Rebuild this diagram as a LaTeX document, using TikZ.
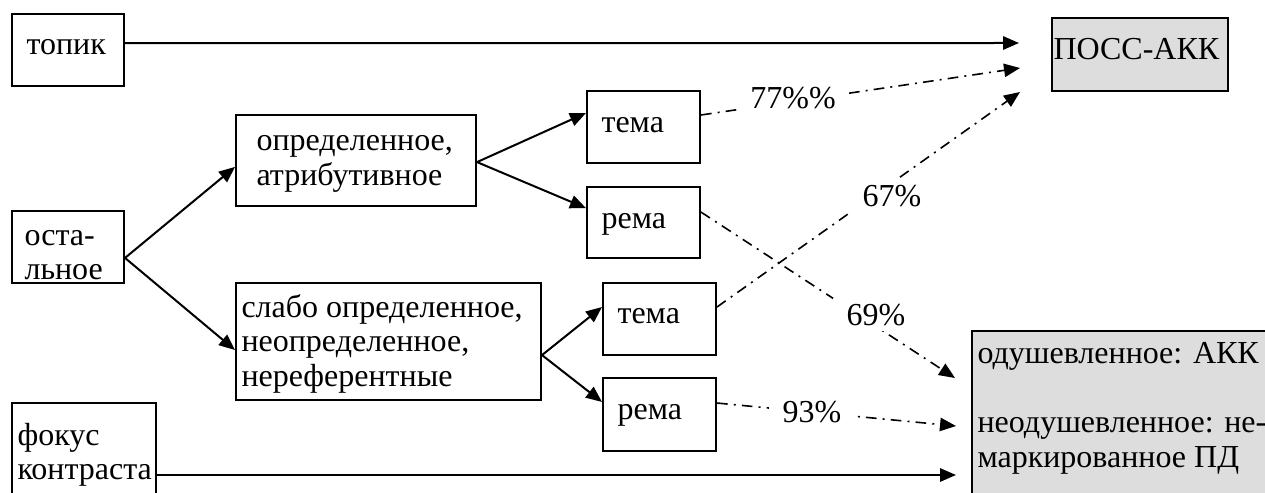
\documentclass[tikz,border=0pt]{standalone}
\usepackage{fontspec}
\setmainfont{Liberation Serif}
\usetikzlibrary{arrows.meta,fit}
\definecolor{boxgray}{gray}{0.867}
\newcommand\mlines[1]{\vtop{\baselineskip=13pt\lineskiplimit=-20pt\halign{##\hfil\cr#1\crcr}}}
\begin{document}
\begin{tikzpicture}[x=0.375pt,y=-0.375pt,
  box/.style={draw,line width=0.75pt,inner sep=0pt},
  gbox/.style={box,fill=boxgray},
  txt/.style={inner sep=0pt,anchor=base west,font=\fontsize{12pt}{13pt}\selectfont},
  lab/.style={fill=white,inner xsep=5pt,inner ysep=2pt,anchor=base,font=\fontsize{12pt}{13pt}\selectfont},
  solidarrow/.style={line width=0.75pt,-{Triangle[length=6pt,width=5pt]}},
  dasharrow/.style={line width=0.6pt,dash pattern=on 4pt off 2.3pt on 0.75pt off 2.3pt,-{Triangle[length=6pt,width=5pt]}}]
\useasboundingbox (0,0) rectangle (1265,492);
\clip (0,0) rectangle (1265,492);
\fill[white] (0,0) rectangle (1265,492);
% boxes
\node[box, fit={(12,14) (124,86)}] (topik) {};
\node[gbox, fit={(1052,18) (1228,91)}] (poss) {};
\node[box, fit={(236,115) (476,206)}] (opr) {};
\node[box, fit={(587,91) (700,163)}] (tema1) {};
\node[box, fit={(587,187) (700,258)}] (rema1) {};
\node[box, fit={(12,211) (124,283)}] (ost) {};
\node[box, fit={(236,283) (541,400)}] (slab) {};
\node[box, fit={(603,283) (716,355)}] (tema2) {};
\node[box, fit={(603,378) (716,451)}] (rema2) {};
\node[box, fit={(12,403) (156,520)}] (fokus) {};
\node[gbox, fit={(972,331) (1290,520)}] (odush) {};
% texts
\node[txt] (topikT) at (26,55) {топик};
\node[txt] (possT) at (1053,60) {ПОСС-АКК};
\node[txt] (oprT) at (256,151) {\mlines{определенное,\cr атрибутивное}};
\node[txt] (tema1T) at (601,132) {тема};
\node[txt] (rema1T) at (601,228) {рема};
\node[txt] (ostT) at (24,245) {\mlines{оста-\cr льное}};
\node[txt] (slabT) at (241,317) {\mlines{слабо определенное,\cr неопределенное,\cr нереферентные}};
\node[txt] (tema2T) at (617,323) {тема};
\node[txt] (rema2T) at (617,419) {рема};
\node[txt] (fokusT) at (17,445) {\mlines{фокус\cr контраста}};
\node[txt] (odushT) at (977,363) {\mlines{одушевленное: АКК\cr\cr неодушевленное: не-\cr маркированное ПД}};
% free ends
\coordinate (pin1) at (1019,43);
\coordinate (pin2) at (1020,68);
\coordinate (pin3) at (1020,92);
\coordinate (oin1) at (955,378);
\coordinate (oin2) at (956,426);
\coordinate (oin3) at (956,475);
% solid connectors
\draw[solidarrow] ([yshift=2.6pt]topik.east) -- (pin1);
\draw[solidarrow] ([yshift=-4.1pt]ost.east) -- ([yshift=-2.4pt]opr.west);
\draw[solidarrow] ([yshift=-4.1pt]ost.east) -- ([yshift=-3.2pt]slab.west);
\draw[solidarrow] ([yshift=-0.6pt]opr.east) -- ([yshift=5.25pt]tema1.west);
\draw[solidarrow] ([yshift=-0.6pt]opr.east) -- ([yshift=5.4pt]rema1.west);
\draw[solidarrow] ([yshift=-5.1pt]slab.east) -- ([yshift=4.5pt]tema2.west);
\draw[solidarrow] ([yshift=-5.1pt]slab.east) -- ([yshift=4.7pt]rema2.west);
\draw[solidarrow] (fokus.east |- oin3) -- (oin3);
% dash-dot connectors
\draw[dasharrow] ([yshift=4.5pt]tema1.east) -- (pin2);
\draw[dasharrow] ([yshift=3.9pt]rema1.east) -- (oin1);
\draw[dasharrow] ([yshift=4.5pt]tema2.east) -- (pin3);
\draw[dasharrow] ([yshift=4.3pt]rema2.east) -- (oin2);
% labels
\node[lab] (l77) at (793,109) {77\%\%};
\node[lab] (l67) at (892,206) {67\%};
\node[lab] (l69) at (876,325) {69\%};
\node[lab] (l93) at (812,422) {93\%};
\end{tikzpicture}
\end{document}
